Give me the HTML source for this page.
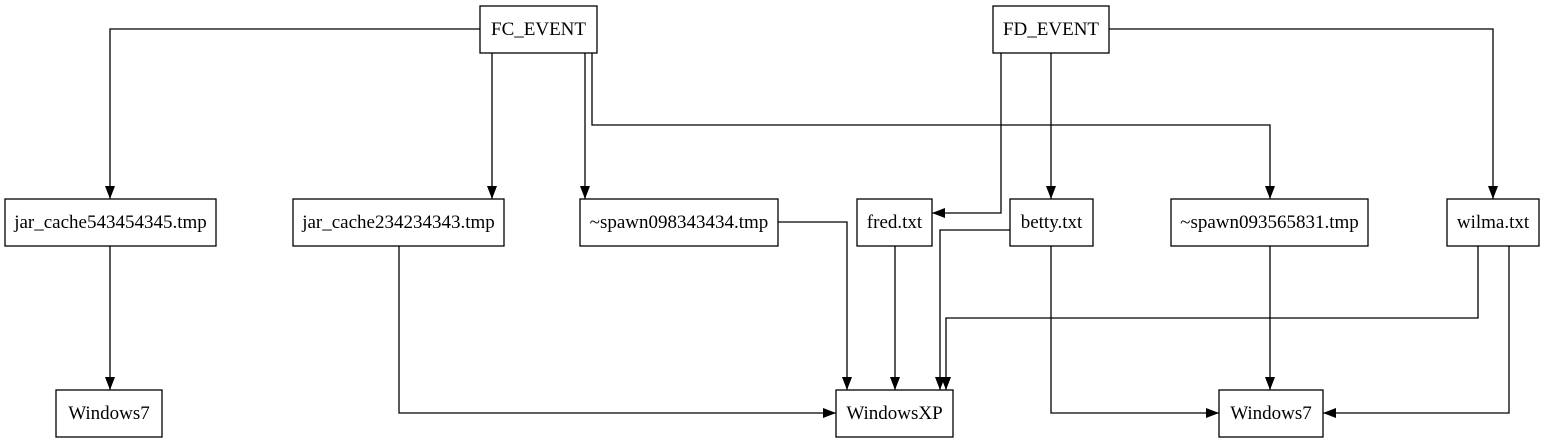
<!DOCTYPE html>
<html><head><meta charset="utf-8"><style>
html,body{margin:0;padding:0;background:#fff;}
svg{display:block;}
text{font-family:"Liberation Serif",serif;font-size:19px;fill:#000;}
</style></head><body>
<svg width="1545" height="443" viewBox="0 0 1545 443" xmlns="http://www.w3.org/2000/svg">
<defs><marker id="a" markerWidth="13" markerHeight="10" refX="13" refY="5" orient="auto" markerUnits="userSpaceOnUse"><path d="M0,0 L13,5 L0,10 Z" fill="#000"/></marker></defs>
<g fill="#fff" stroke="#000" stroke-width="1.3">
<rect x="480" y="6" width="117" height="47"/>
<rect x="993" y="6" width="116" height="47"/>
<rect x="5" y="199" width="211" height="47"/>
<rect x="293" y="199" width="211" height="47"/>
<rect x="580" y="199" width="198" height="47"/>
<rect x="857" y="199" width="75" height="47"/>
<rect x="1010" y="199" width="83" height="47"/>
<rect x="1171" y="199" width="197" height="47"/>
<rect x="1447" y="199" width="92" height="47"/>
<rect x="56" y="390" width="106" height="47"/>
<rect x="836" y="390" width="117" height="47"/>
<rect x="1219" y="390" width="104" height="47"/>
</g>
<g fill="none" stroke="#000" stroke-width="1.3" marker-end="url(#a)">
<path d="M480,29 H110 V199"/>
<path d="M492,53 V199"/>
<path d="M585,53 V199"/>
<path d="M592,53 V125 H1270 V199"/>
<path d="M1001,53 V213 H932"/>
<path d="M1051,53 V199"/>
<path d="M1109,29 H1493 V199"/>
<path d="M110,246 V390"/>
<path d="M399,246 V413 H836"/>
<path d="M778,222 H847 V390"/>
<path d="M895,246 V390"/>
<path d="M1010,230 H940 V390"/>
<path d="M1478,246 V318 H946 V390"/>
<path d="M1509,246 V413 H1323"/>
<path d="M1051,246 V413 H1219"/>
<path d="M1270,246 V390"/>
</g>
<g text-anchor="middle">
<text x="538.5" y="35">FC_EVENT</text>
<text x="1051" y="35">FD_EVENT</text>
<text x="110.5" y="228">jar_cache543454345.tmp</text>
<text x="398.5" y="228">jar_cache234234343.tmp</text>
<text x="679" y="228">~spawn098343434.tmp</text>
<text x="894.5" y="228">fred.txt</text>
<text x="1051.5" y="228">betty.txt</text>
<text x="1269.5" y="228">~spawn093565831.tmp</text>
<text x="1493" y="228">wilma.txt</text>
<text x="109" y="419">Windows7</text>
<text x="894.5" y="419">WindowsXP</text>
<text x="1271" y="419">Windows7</text>
</g>
</svg>
</body></html>
